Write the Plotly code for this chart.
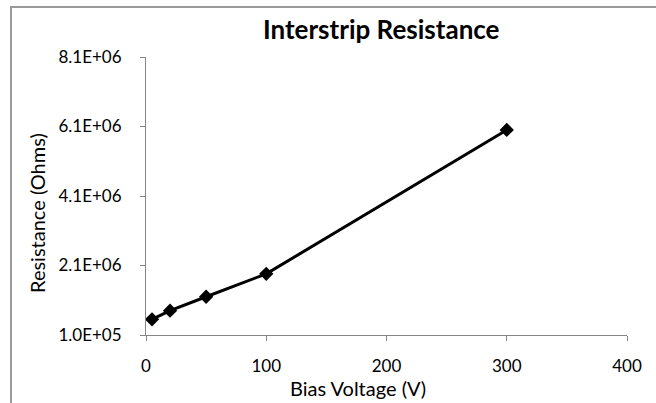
import plotly.graph_objects as go

bias_voltage = [5, 20, 50, 100, 300]
resistance = [5.5e5, 8.0e5, 1.2e6, 1.86e6, 6.0e6]
y_ticks = [1.0e5, 2.1e6, 4.1e6, 6.1e6, 8.1e6]
y_tick_labels = ["1.0E+05", "2.1E+06", "4.1E+06", "6.1E+06", "8.1E+06"]
x_ticks = [0, 100, 200, 300, 400]

W, H = 656, 403
L, R, T, B = 146, 29, 57, 68
pw, ph = W - L - R, H - T - B

def px(xp):
    return (xp - L) / pw

def py(yp):
    return (H - B - yp) / ph

font = "Lato, 'Open Sans', sans-serif"
axis_col = "#868686"

fig = go.Figure()
fig.add_trace(go.Scatter(
    x=bias_voltage, y=resistance, mode="lines+markers",
    line=dict(color="black", width=3),
    marker=dict(symbol="diamond", size=11, color="black"),
    showlegend=False, cliponaxis=False,
))

fig.update_layout(
    width=W, height=H,
    margin=dict(l=L, r=R, t=T, b=B),
    paper_bgcolor="white", plot_bgcolor="white",
    font=dict(family=font, size=17, color="black"),
    xaxis=dict(range=[0, 400], tickvals=x_ticks, ticks="outside", ticklen=5,
               tickcolor=axis_col, showline=True, linecolor=axis_col, linewidth=1,
               showgrid=False, zeroline=False, tickfont=dict(size=17),
               ticklabelstandoff=11),
    yaxis=dict(range=[1.0e5, 8.1e6], tickvals=y_ticks, ticktext=y_tick_labels,
               ticks="outside", ticklen=5, tickcolor=axis_col, showline=True,
               linecolor=axis_col, linewidth=1, showgrid=False, zeroline=False,
               tickfont=dict(size=17), ticklabelstandoff=15),
    annotations=[
        dict(text="<b>Interstrip Resistance</b>", x=px(381), y=py(29), xref="paper", yref="paper",
             showarrow=False, font=dict(size=26, family=font), xanchor="center", yanchor="middle"),
        dict(text="Bias Voltage (V)", x=px(358), y=py(388), xref="paper", yref="paper",
             showarrow=False, font=dict(size=20, family=font), xanchor="center", yanchor="middle"),
        dict(text="Resistance (Ohms)", x=px(37), y=py(213), xref="paper", yref="paper",
             showarrow=False, textangle=-90, font=dict(size=20, family=font),
             xanchor="center", yanchor="middle"),
    ],
    shapes=[
        dict(type="line", xref="paper", yref="paper", x0=px(11), x1=px(11), y0=py(7), y1=py(405),
             line=dict(color="#999999", width=2)),
        dict(type="line", xref="paper", yref="paper", x0=px(10), x1=px(660), y0=py(7), y1=py(7),
             line=dict(color="#999999", width=2)),
    ],
)

fig.write_html("out.html")
